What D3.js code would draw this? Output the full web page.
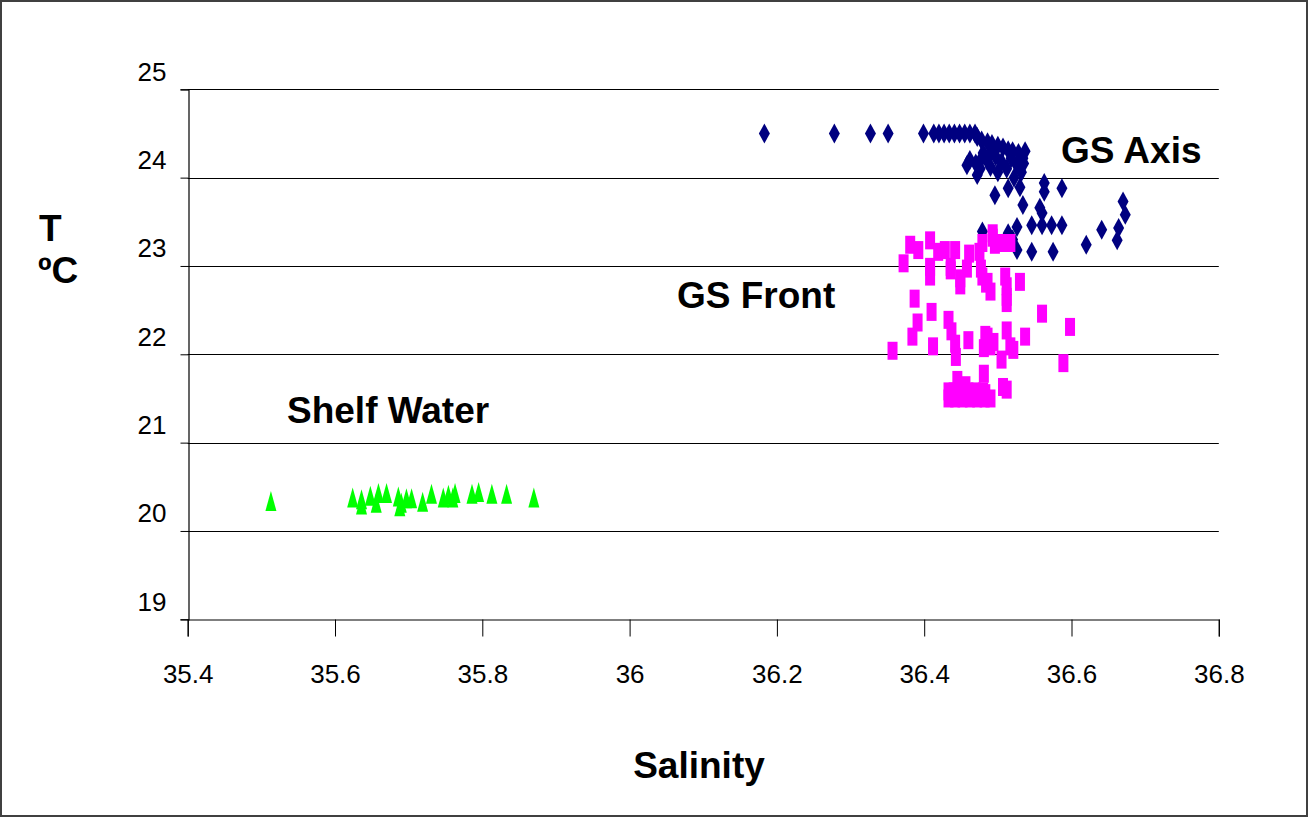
<!DOCTYPE html>
<html>
<head>
<meta charset="utf-8">
<script src="https://cdn.jsdelivr.net/npm/d3@7"></script>
<style>
  html, body { margin: 0; padding: 0; background: #fff; }
  svg { display: block; }
  text { font-family: "Liberation Sans", Arial, sans-serif; }
</style>
</head>
<body>
<svg id="chart" width="1309" height="818"></svg>
<script>
// Temperature (°C) vs salinity samples, by water mass
const gsAxis = [
  [36.183,24.5],[36.278,24.5],[36.327,24.5],[36.351,24.5],[36.399,24.5],[36.413,24.5],
  [36.42,24.5],[36.427,24.5],[36.434,24.5],[36.441,24.5],[36.448,24.5],[36.455,24.5],
  [36.462,24.5],[36.469,24.5],[36.472,24.46],[36.478,24.42],[36.486,24.4],[36.492,24.38],
  [36.5,24.36],[36.507,24.34],[36.514,24.31],[36.52,24.3],[36.528,24.28],[36.537,24.3],
  [36.534,24.22],[36.462,24.2],[36.47,24.16],[36.458,24.14],[36.476,24.1],[36.472,24.03],
  [36.485,24.2],[36.49,24.12],[36.497,24.24],[36.5,24.06],[36.505,24.18],[36.512,24.1],
  [36.518,24.22],[36.522,24.0],[36.526,24.14],[36.532,24.06],[36.535,24.16],[36.48,24.28],
  [36.492,24.3],[36.478,24.22],[36.496,23.8],[36.514,23.88],[36.53,23.89],[36.563,23.94],
  [36.563,23.84],[36.587,23.88],[36.534,23.69],[36.557,23.66],[36.56,23.6],[36.67,23.73],
  [36.673,23.58],[36.546,23.46],[36.56,23.46],[36.573,23.46],[36.587,23.46],[36.526,23.44],
  [36.641,23.41],[36.664,23.43],[36.514,23.37],[36.479,23.39],[36.662,23.29],[36.62,23.24],
  [36.526,23.18],[36.546,23.16],[36.575,23.16],[36.52,23.3]
];

const gsFront = [
  [36.357,22.04],[36.384,22.2],[36.391,22.36],[36.387,22.63],[36.372,23.03],[36.381,23.24],
  [36.392,23.18],[36.408,23.29],[36.408,22.88],[36.408,22.99],[36.41,22.48],[36.412,22.09],
  [36.419,23.16],[36.436,22.99],[36.442,23.18],[36.433,22.39],[36.437,22.26],[36.442,22.12],
  [36.443,21.97],[36.449,22.78],[36.458,22.97],[36.46,22.16],[36.461,23.14],[36.475,23.16],
  [36.479,23.26],[36.493,23.32],[36.477,22.97],[36.484,22.8],[36.49,22.71],[36.483,22.22],
  [36.481,22.07],[36.494,22.14],[36.481,21.78],[36.445,21.71],[36.456,21.65],
  [36.433,21.58],[36.44,21.58],[36.45,21.58],[36.46,21.58],[36.47,21.58],[36.48,21.58],
  [36.433,21.5],[36.442,21.5],[36.452,21.5],[36.462,21.5],[36.472,21.5],[36.482,21.5],[36.49,21.5],
  [36.51,22.88],[36.512,22.77],[36.512,22.58],[36.53,22.82],[36.56,22.46],[36.598,22.31],
  [36.537,22.2],[36.512,22.27],[36.517,22.09],[36.521,22.05],[36.505,21.94],[36.589,21.9],
  [36.507,21.63],[36.512,21.6],[36.496,23.24],[36.507,23.26],[36.493,23.37],[36.5,23.26],
  [36.517,23.26],[36.428,23.18],[36.436,22.95],[36.449,22.86],[36.479,22.88],[36.486,22.82],
  [36.512,22.65],[36.486,22.2],[36.49,22.09],[36.483,21.56]
];

const shelfWater = [
  [35.513,20.34],[35.624,20.38],[35.636,20.36],[35.636,20.3],[35.648,20.4],[35.656,20.32],
  [35.659,20.43],[35.67,20.43],[35.686,20.39],[35.688,20.28],[35.69,20.32],[35.697,20.37],
  [35.704,20.37],[35.719,20.33],[35.731,20.42],[35.747,20.38],[35.754,20.41],[35.763,20.43],
  [35.76,20.38],[35.786,20.42],[35.795,20.44],[35.813,20.42],[35.833,20.42],[35.87,20.38]
];

const salinityTicks = [35.4, 35.6, 35.8, 36, 36.2, 36.4, 36.6, 36.8];
const tempTicks = [19, 20, 21, 22, 23, 24, 25];

const svg = d3.select("#chart");

// outer frame
svg.append("rect")
  .attr("x", 1).attr("y", 1).attr("width", 1306).attr("height", 815)
  .attr("fill", "#fff").attr("stroke", "#404040").attr("stroke-width", 2);

const x = d3.scaleLinear().domain([35.4, 36.8]).range([187.7, 1218.8]);
const y = d3.scaleLinear().domain([19, 25]).range([619.3, 89.3]);

// horizontal gridlines
svg.append("g")
  .selectAll("line").data(tempTicks.slice(1)).join("line")
  .attr("x1", x(35.4)).attr("x2", x(36.8))
  .attr("y1", d => Math.round(y(d)) + 0.5).attr("y2", d => Math.round(y(d)) + 0.5)
  .attr("stroke", "#000").attr("stroke-width", 1.2);

// y axis
const yAxis = svg.append("g")
  .attr("transform", `translate(${Math.round(x(35.4)) + 0.5},0)`)
  .call(d3.axisLeft(y).tickValues(tempTicks).tickSize(8).tickFormat(d3.format("d")));
yAxis.select(".domain").attr("stroke", "#000").attr("stroke-width", 1.2);
yAxis.selectAll(".tick line").attr("stroke", "#000");
yAxis.selectAll(".tick text")
  .attr("x", -22).attr("dy", "-0.35em")
  .attr("font-size", 26).attr("fill", "#000")
  .style("font-family", "'Liberation Sans', Arial, sans-serif");

// x axis
const xAxis = svg.append("g")
  .attr("transform", `translate(0,${Math.round(y(19)) + 0.5})`)
  .call(d3.axisBottom(x).tickValues(salinityTicks).tickSize(17).tickFormat(d3.format("")));
xAxis.select(".domain").attr("stroke", "#000").attr("stroke-width", 1.2);
xAxis.selectAll(".tick line").attr("stroke", "#000");
xAxis.selectAll(".tick text")
  .attr("y", 45).attr("dy", "0.71em")
  .attr("font-size", 26).attr("fill", "#000")
  .style("font-family", "'Liberation Sans', Arial, sans-serif");

// markers
const diamond = (w, h) => `M0,${-h/2}L${w/2},0L0,${h/2}L${-w/2},0Z`;
const triangle = (w, h) => `M0,${-h/2}L${w/2},${h/2}L${-w/2},${h/2}Z`;

svg.append("g").selectAll("path").data(gsAxis).join("path")
  .attr("transform", d => `translate(${x(d[0])},${y(d[1])})`)
  .attr("d", diamond(11, 20))
  .attr("fill", "#000080");

svg.append("g").selectAll("rect").data(gsFront).join("rect")
  .attr("x", d => x(d[0]) - 5).attr("y", d => y(d[1]) - 9)
  .attr("width", 10).attr("height", 18)
  .attr("fill", "#ff00ff");

svg.append("g").selectAll("path").data(shelfWater).join("path")
  .attr("transform", d => `translate(${x(d[0])},${y(d[1])})`)
  .attr("d", triangle(11, 20))
  .attr("fill", "#00ff00");

// series labels
const labels = [
  { text: "GS Axis", x: 1061, y: 163 },
  { text: "GS Front", x: 677, y: 308 },
  { text: "Shelf Water", x: 287, y: 423 }
];
svg.append("g").selectAll("text").data(labels).join("text")
  .attr("x", d => d.x).attr("y", d => d.y)
  .attr("font-size", 37).attr("font-weight", "bold").attr("fill", "#000")
  .text(d => d.text);

// axis titles
svg.append("text")
  .attr("x", 699).attr("y", 778).attr("text-anchor", "middle")
  .attr("font-size", 37).attr("font-weight", "bold")
  .text("Salinity");
svg.append("text")
  .attr("x", 39).attr("y", 241)
  .attr("font-size", 37).attr("font-weight", "bold")
  .text("T");
svg.append("text")
  .attr("x", 38).attr("y", 283)
  .attr("font-size", 37).attr("font-weight", "bold")
  .text("ºC");
</script>
</body>
</html>
